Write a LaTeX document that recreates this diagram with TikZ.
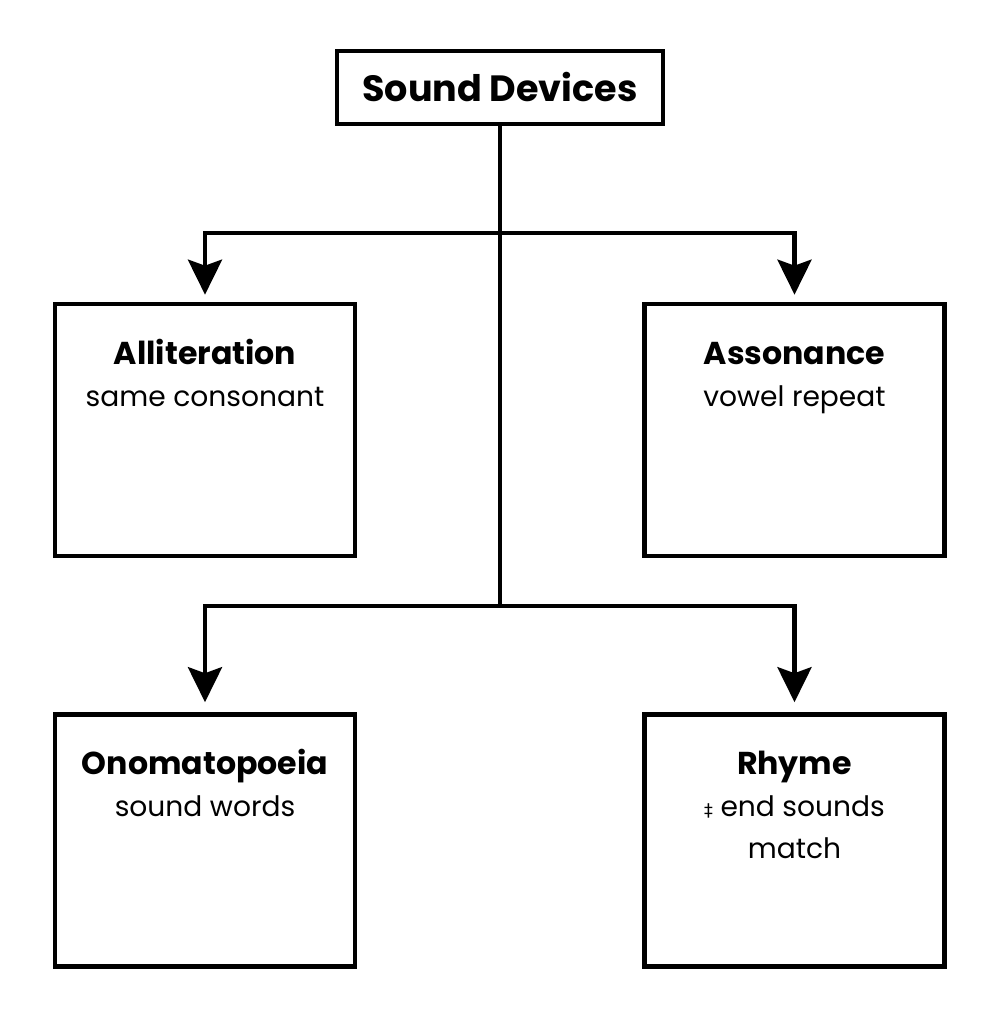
\documentclass[tikz,border=0pt]{standalone}
\usepackage{fontspec}
\setmainfont{Poppins}
\newfontfamily\symfont{DejaVu Sans}
\usetikzlibrary{arrows.meta,positioning}
\newcommand{\boxhead}[1]{{\rule{0pt}{11pt}\fontsize{9}{12}\selectfont\bfseries #1}}

\begin{document}
\begin{tikzpicture}[
  box/.style={draw=black, line width=1.3pt, minimum width=3.0cm, minimum height=2.52cm, inner sep=0pt},
  boxtext/.style={anchor=north, align=center, font=\fontsize{8}{12}\selectfont, inner sep=0pt},
  link/.style={line width=1.3pt, black},
  arrowlink/.style={link, -{Stealth[length=0.35cm,width=0.34cm,inset=0.06cm]}, shorten >=2pt}
]
  \useasboundingbox (0,0) rectangle (10.01,10.24);

  % Title
  \node[draw=black, line width=1.3pt, minimum width=3.26cm, minimum height=0.73cm, font=\fontsize{10.4}{12}\selectfont\bfseries] (title) at (5.0,9.365) {Sound Devices};

  %--- Boxes ---
  \node[box] (alli) at (2.05,5.94) {};
  \node[box] (asso) at (7.945,5.94) {};
  \node[box] (ono) at (2.05,1.835) {};
  \node[box] (rhyme) at (7.945,1.835) {};

  \node[boxtext] (allitxt) at ([yshift=-0.23cm]alli.north) {\boxhead{Alliteration}\\same consonant};
  \node[boxtext] (assotxt) at ([yshift=-0.23cm]asso.north) {\boxhead{Assonance}\\vowel repeat};
  \node[boxtext] (onotxt) at ([yshift=-0.23cm]ono.north) {\boxhead{Onomatopoeia}\\sound words};
  \node[boxtext] (rhymetxt) at ([yshift=-0.23cm]rhyme.north) {\boxhead{Rhyme}\\{\symfont\fontsize{5}{12}\selectfont ‡} end sounds\\match};

  %--- Connectors ---
  \coordinate (top) at (5.0,7.91);
  \coordinate (bottom) at (5.0,4.18);
  \draw[link] (title.south) -- (bottom);
  \draw[arrowlink] (top) -| (alli.north);
  \draw[arrowlink] (top) -| (asso.north);
  \draw[arrowlink, shorten >=0.1cm] (bottom) -| (ono.north);
  \draw[arrowlink, shorten >=0.1cm] (bottom) -| (rhyme.north);
\end{tikzpicture}
\end{document}
